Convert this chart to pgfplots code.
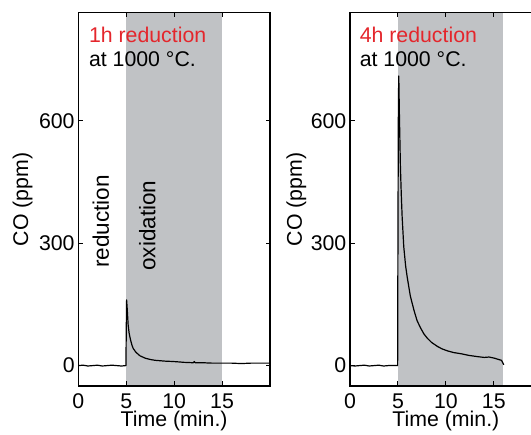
\documentclass[border=0pt]{standalone}
\usepackage{pgfplots}
\pgfplotsset{compat=1.18}
\usepackage{fontspec}
\setmainfont{Liberation Sans}
\definecolor{shade}{RGB}{192,194,197}
\definecolor{redtxt}{RGB}{228,38,44}
\pgfplotsset{
  panel/.style={
    scale only axis, width=191.7pt, height=373.3pt,
    xmin=0, xmax=20, ymin=-50, ymax=865,
    xtick={0,5,10,15}, ytick={0,300,600},
    tick align=inside, major tick length=4.5pt,
    tick style={line width=1.1pt, black},
    axis line style={line width=1.3pt},
    axis on top,
    font=\fontsize{21.3}{25}\selectfont,
    tick label style={font=\fontsize{21.3}{25}\selectfont},
    /pgf/number format/assume math mode=true,
    yticklabel style={inner sep=0pt, xshift=-3.5pt},
    xticklabel style={inner sep=0pt, yshift=-7.5pt},
    xlabel={Time (min.)}, ylabel={CO (ppm)},
    xlabel style={at={(axis description cs:0.5,-0.093)}, anchor=center, inner sep=0pt},
    anchor=south west,
  }
}
\begin{document}
\begin{tikzpicture}[x=1pt,y=1pt]
\begin{axis}[panel, at={(78.3pt,49pt)},
  ylabel style={at={(axis description cs:-0.29,0.5)}, anchor=center, inner sep=0pt}]
\addplot[fill=shade, draw=none] coordinates {(5,-50) (15,-50) (15,865) (5,865)} -- cycle;
\addplot[black, line width=1.2pt, line join=round] coordinates {
(0,0)(0.5,1)(1,-1)(1.5,0)(2,1)(2.5,-1)(3,0)(3.5,1)(4,0)(4.5,-1)(4.97,0)
(5.0,80)(5.04,161)(5.1,140)(5.2,100)(5.3,80)(5.45,63)(5.6,50)(5.73,42)(6,33)
(6.43,24)(7,18)(7.5,15)(8,13)(8.5,12)(9,11)(9.9,10)(10.5,9)(11,8)(12,7)(12.1,10)(12.2,7)
(13,7)(14,6)(15,6)(16,6)(17,5)(18,6)(19,6)(20,6)};
\node[anchor=base west, inner sep=0, text=redtxt, font=\fontsize{21.3}{25}\selectfont] at (axis cs:1.1,793) {1h reduction};
\node[anchor=base west, inner sep=0, font=\fontsize{21.3}{25}\selectfont] at (axis cs:1.1,732) {at 1000 °C.};
\node[rotate=90, anchor=center, inner sep=0, font=\fontsize{22.5}{26}\selectfont] at (axis cs:2.36,353) {reduction};
\node[rotate=90, anchor=center, inner sep=0, font=\fontsize{22.5}{26}\selectfont] at (axis cs:7.21,343) {oxidation};
\end{axis}
\begin{axis}[panel, at={(350pt,49pt)},
  ylabel style={at={(axis description cs:-0.28,0.5)}, anchor=center, inner sep=0pt}]
\addplot[fill=shade, draw=none] coordinates {(5,-50) (16,-50) (16,865) (5,865)} -- cycle;
\addplot[black, line width=1.2pt, line join=round] coordinates {
(0,0)(0.5,-1)(1,0)(1.5,1)(2,-1)(2.5,0)(3,1)(3.5,-1)(4,0)(4.5,0)(4.97,0)
(5.0,300)(5.05,650)(5.09,710)(5.15,620)(5.26,487)(5.35,420)(5.44,365)(5.61,291)
(5.8,245)(5.96,218)(6.3,170)(6.67,136)(7,110)(7.37,92)(7.7,78)(8.07,67)(8.5,57)
(9.12,47)(9.6,41)(10.18,36)(10.8,32)(11.6,29)(12.4,25)(13.3,22)(14,20)(14.5,21)
(15.1,18)(15.5,15)(15.8,13)(16.05,2)};
\node[anchor=base west, inner sep=0, text=redtxt, font=\fontsize{21.3}{25}\selectfont] at (axis cs:1.0,793) {4h reduction};
\node[anchor=base west, inner sep=0, font=\fontsize{21.3}{25}\selectfont] at (axis cs:1.0,732) {at 1000 °C.};
\end{axis}
\pgfresetboundingbox
\path[use as bounding box] (0,0) rectangle (531,435);
\end{tikzpicture}
\end{document}
